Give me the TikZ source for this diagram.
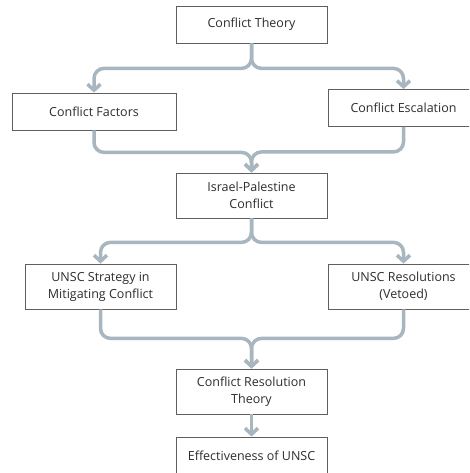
\documentclass[tikz,border=0pt]{standalone}
\usepackage{xcolor}
\usepackage{fontspec}
\setmainfont{Open Sans}
\usepackage{tikz}
\usetikzlibrary{arrows.meta}
\definecolor{linkgray}{RGB}{168,182,192}
\definecolor{boxgray}{RGB}{95,95,95}
\definecolor{textgray}{RGB}{45,45,45}
\tikzset{
    mybox/.style = {rectangle, draw=boxgray, line width=0.8pt, fill=white, align=center, text=textgray,
        font=\fontsize{12.5}{17}\selectfont, minimum width=151pt, minimum height=37pt, inner sep=0pt},
}

\begin{document}
\begin{tikzpicture}[
	x=1pt,
	y=-1pt
]
\tikzset{
    myboxt/.style = {mybox, minimum height=45pt},
    link/.style = {line width=3.5pt, linkgray, rounded corners=10pt, -{Straight Barb[length=6pt,width=13pt]}},
}
\useasboundingbox (0,0) rectangle (469,473);
\clip (0,0) rectangle (469,473);
\fill[white] (0,0) rectangle (469,473);
\node[mybox] at (251.5,24.5) (theory) {Conflict Theory};
\node[mybox,minimum width=164pt] at (94,111.5) (factors) {Conflict Factors};
\node[mybox] at (403.5,108) (escal) {Conflict Escalation};
\node[myboxt] at (251.5,195.5) (israel) {Israel-Palestine\\Conflict};
\node[myboxt] at (100.5,286.5) (strategy) {UNSC Strategy in\\Mitigating Conflict};
\node[myboxt] at (403.5,286.5) (resol) {UNSC Resolutions\\(Vetoed)};
\node[myboxt] at (251.5,391.5) (crtheory) {Conflict Resolution\\Theory};
\node[mybox] at (251.5,455.5) (effect) {Effectiveness of UNSC};
%
\draw[link] (theory.south) -- ++(0,25) -| (factors.north);
\draw[link] (theory.south) -- ++(0,25) -| (escal.north);
%
\draw[link] (factors.south) -- ++(0,22) -| (israel.north);
\draw[link] (escal.south) -- ++(0,25) -| (israel.north);
%
\draw[link] (israel.south) -- ++(0,24) -| (strategy.north);
\draw[link] (israel.south) -- ++(0,24) -| (resol.north);
%
\draw[link] (strategy.south) -- ++(0,29) -| (crtheory.north);
\draw[link] (resol.south) -- ++(0,29) -| (crtheory.north);
%
\draw[link] (crtheory.south) -- (effect.north);
\end{tikzpicture}
\end{document}
